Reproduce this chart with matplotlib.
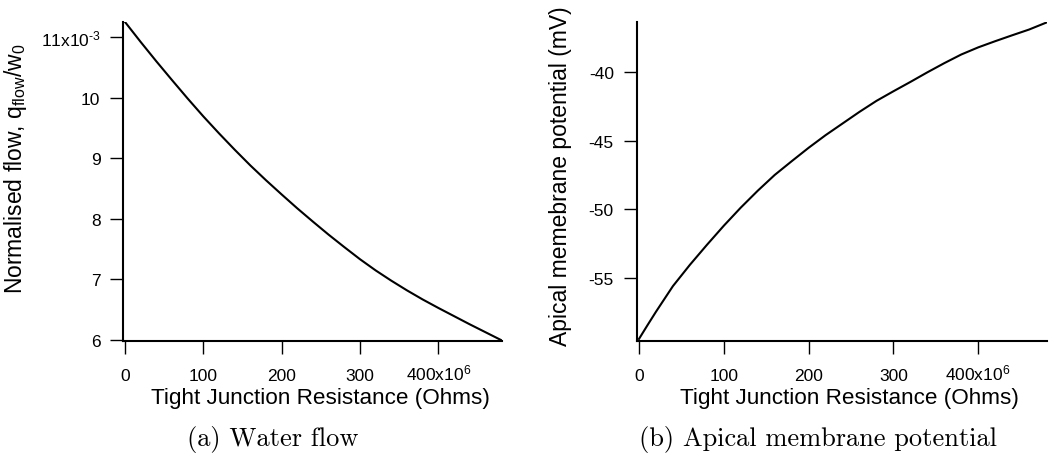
import matplotlib
matplotlib.use("Agg")
import matplotlib.pyplot as plt
from matplotlib.ticker import FixedLocator, FixedFormatter

plt.rcParams['font.family'] = ['Liberation Sans', 'DejaVu Sans']
plt.rcParams['mathtext.fontset'] = 'custom'
plt.rcParams['mathtext.rm'] = 'Liberation Sans'
plt.rcParams['mathtext.it'] = 'Liberation Sans'

# ---- data ----
resistance = [0, 20, 40, 60, 80, 100, 120, 140, 160, 180, 200, 220, 240, 260,
              280, 300, 320, 340, 360, 380, 400, 420, 440, 460, 480]  # x10^6 Ohms
flow = [11.25, 10.92, 10.60, 10.29, 9.985, 9.69, 9.41, 9.14, 8.88, 8.635, 8.40,
        8.17, 7.95, 7.735, 7.53, 7.33, 7.145, 6.975, 6.815, 6.665, 6.525, 6.39,
        6.255, 6.125, 5.995]  # x10^-3

res_b = [0, 10, 20, 40, 60, 80, 100, 120, 140, 160, 180, 200, 220, 240, 260,
         280, 300, 320, 340, 360, 380, 400, 420, 440, 460, 480]
potential = [-59.45, -58.45, -57.47, -55.6, -54.05, -52.6, -51.2, -49.88,
             -48.65, -47.5, -46.5, -45.52, -44.6, -43.75, -42.9, -42.1, -41.4,
             -40.72, -40.02, -39.35, -38.72, -38.2, -37.75, -37.32, -36.9,
             -36.4]

x_ticks = [0, 100, 200, 300, 400]
x_ticklabels = ['0', '100', '200', '300', r'400x10$^{6}$']
y_ticks_a = [6, 7, 8, 9, 10, 11]
y_ticklabels_a = ['6', '7', '8', '9', '10', r'11x10$^{\text{-3}}$']
y_ticks_b = [-55, -50, -45, -40]
y_ticklabels_b = ['-55', '-50', '-45', '-40']

W, H = 1050, 456
fig = plt.figure(figsize=(W / 100, H / 100), dpi=100)

def px_axes(l, r, t, b):
    return fig.add_axes([l / W, 1 - b / H, (r - l) / W, (b - t) / H])

ax1 = px_axes(123.3, 501.7, 23, 342)
ax2 = px_axes(636.7, 1046.7, 23, 342)

ax1.plot(resistance, flow, color='black', lw=1.5)
ax1.set_xlim(-2.2, 481)
ax1.set_ylim(5.978, 11.25)
ax1.yaxis.set_major_locator(FixedLocator(y_ticks_a))
ax1.yaxis.set_major_formatter(FixedFormatter(y_ticklabels_a))

ax2.plot(res_b, potential, color='black', lw=1.5)
ax2.set_xlim(-2.7, 480.8)
ax2.set_ylim(-59.6, -36.35)
ax2.yaxis.set_major_locator(FixedLocator(y_ticks_b))
ax2.yaxis.set_major_formatter(FixedFormatter(y_ticklabels_b))

for ax in (ax1, ax2):
    ax.xaxis.set_major_locator(FixedLocator(x_ticks))
    ax.xaxis.set_major_formatter(FixedFormatter(x_ticklabels))
    for s in ('top', 'right'):
        ax.spines[s].set_visible(False)
    for s in ('left', 'bottom'):
        ax.spines[s].set_linewidth(1.5)
    ax.tick_params(direction='out', length=9.5, width=1.0, labelsize=12.5)
    ax.tick_params(axis='x', pad=18.5)
    ax.tick_params(axis='y', pad=7)
    ax.set_xlabel('Tight Junction Resistance (Ohms)', fontsize=16.2)
    ax.xaxis.set_label_coords(0.52, -0.178)
    ax.xaxis.label.set_va('center')
    for lab in ax.get_xticklabels():
        lab.set_va('baseline')

ax1.set_ylabel(r'Normalised flow, q$_{\mathregular{flow}}$/w$_{\mathregular{0}}$', fontsize=16.5)
ax1.yaxis.set_label_coords(-0.286, 0.545)
ax1.yaxis.label.set_va('center')
ax2.set_ylabel('Apical memebrane potential (mV)', fontsize=16.5)
ax2.yaxis.set_label_coords(-0.187, 0.52)
ax2.yaxis.label.set_va('center')

fig.text(273 / W, 1 - 440 / H, '(a) Water flow', family='cmr10', fontsize=19,
         ha='center', va='center')
fig.text(818 / W, 1 - 440 / H, '(b) Apical membrane potential', family='cmr10',
         fontsize=19, ha='center', va='center')

fig.savefig('out.png', dpi=100)
